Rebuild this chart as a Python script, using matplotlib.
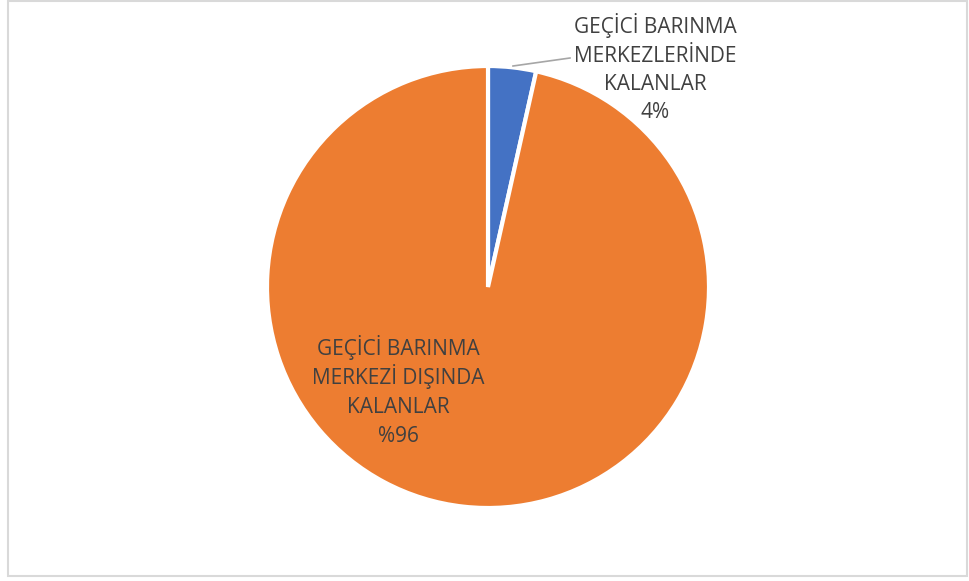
import matplotlib.pyplot as plt
from matplotlib.patches import Rectangle

# data
top_lines = ["GEÇİCİ BARINMA", "MERKEZLERİNDE", "KALANLAR", "4%"]
big_lines = ["GEÇİCİ BARINMA", "MERKEZİ DIŞINDA", "KALANLAR", "%96"]
values = [3.5, 96.5]
colors = ["#4472C4", "#ED7D31"]

W, H = 969, 581
fig = plt.figure(figsize=(W / 100, H / 100), dpi=100)
ax = fig.add_axes([0, 0, 1, 1])

cx, cy, r = 488, H - 287, 221
ax.pie(values, colors=colors, startangle=90, counterclock=False,
       center=(cx, cy), radius=r, frame=True,
       wedgeprops=dict(edgecolor="white", linewidth=3))
ax.set_xlim(0, W)
ax.set_ylim(0, H)
ax.set_aspect("equal")
ax.axis("off")

txt = dict(ha="center", va="baseline", fontsize=15, color="#404040",
           family="Open Sans")
# one text per line so the spacing stays even
for i, line in enumerate(top_lines):
    ax.text(655, H - (33 + 28.5 * i), line, **txt)
for i, line in enumerate(big_lines):
    ax.text(398, H - (355 + 29 * i), line, **txt)

# leader line
ax.plot([513, 570], [H - 66, H - 58], color="#a6a6a6", lw=1.2)

# chart border
fig.patches.append(Rectangle((8 / W, 5 / H), 959 / W, 575 / H, transform=fig.transFigure,
                             fill=False, edgecolor="#d9d9d9", lw=1.5))

fig.savefig("out.png", dpi=100)
